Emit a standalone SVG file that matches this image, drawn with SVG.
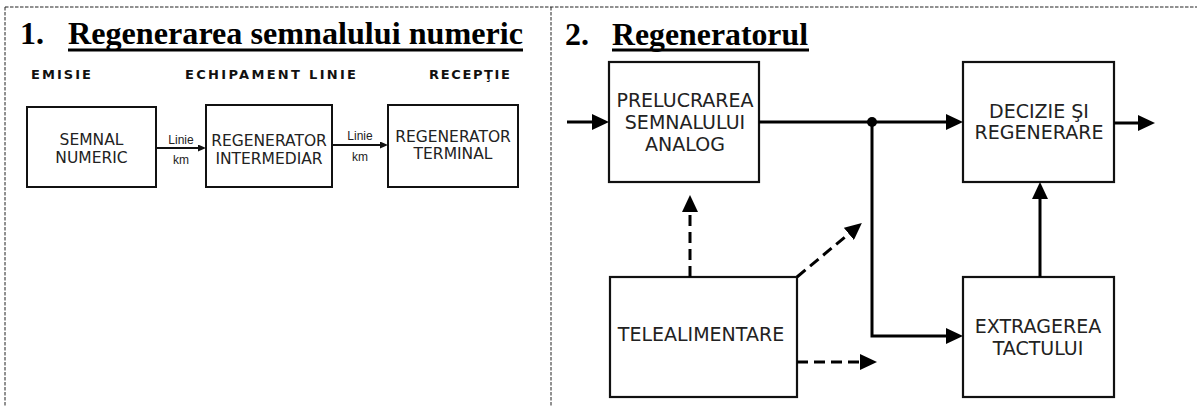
<svg xmlns="http://www.w3.org/2000/svg" width="1197" height="407" viewBox="0 0 1197 407">
  <style>
    .frame { stroke: #222; stroke-width: 1; stroke-dasharray: 3.5 1.5; fill: none; }
    .title { font-family: "Liberation Serif", "Times New Roman", serif; font-weight: bold; font-size: 32px; fill: #000; }
    .hdr { font-family: "DejaVu Sans", Verdana, sans-serif; font-weight: bold; font-size: 13px; fill: #111; }
    .box1 { fill: #fff; stroke: #111; stroke-width: 2; }
    .t1 { font-family: "DejaVu Sans", Verdana, sans-serif; font-size: 15.5px; fill: #222; text-anchor: middle; }
    .lbl { font-family: "Liberation Sans", Arial, sans-serif; font-size: 12px; fill: #222; text-anchor: middle; }
    .box2 { fill: #fff; stroke: #111; stroke-width: 2.2; }
    .t2 { font-family: "DejaVu Sans", Verdana, sans-serif; font-size: 19px; fill: #222; text-anchor: middle; }
    .a1 { stroke: #111; stroke-width: 2; fill: none; }
    .a2 { stroke: #000; stroke-width: 3; fill: none; }
    .d2 { stroke: #000; stroke-width: 3; fill: none; stroke-dasharray: 11 6; }
  </style>
  <defs>
    <marker id="sm" markerUnits="userSpaceOnUse" markerWidth="8" markerHeight="7" refX="4" refY="3.5" orient="auto">
      <path d="M0,0 L8,3.5 L0,7 z" fill="#111"/>
    </marker>
    <marker id="big" markerUnits="userSpaceOnUse" markerWidth="17" markerHeight="16" refX="9" refY="8" orient="auto">
      <path d="M0,0 L17,8 L0,16 z" fill="#000"/>
    </marker>
  </defs>

  <g id="frame">
    <line class="frame" x1="5" y1="7" x2="1197" y2="7"/>
    <line class="frame" x1="5" y1="7" x2="5" y2="407"/>
    <line class="frame" x1="551" y1="7" x2="551" y2="407"/>
  </g>

  <g id="title1">
    <text class="title" x="20" y="44">1.</text>
    <text class="title" x="68" y="44" textLength="455" lengthAdjust="spacingAndGlyphs">Regenerarea semnalului numeric</text>
    <rect x="68" y="48.5" width="455" height="3" fill="#000"/>
  </g>
  <g id="title2">
    <text class="title" x="565" y="45">2.</text>
    <text class="title" x="612" y="45" textLength="196" lengthAdjust="spacingAndGlyphs">Regeneratorul</text>
    <rect x="612" y="48.5" width="197" height="3" fill="#000"/>
  </g>

  <g id="headers">
    <text class="hdr" x="31" y="79" textLength="60" lengthAdjust="spacing">EMISIE</text>
    <text class="hdr" x="185" y="79" textLength="171" lengthAdjust="spacing">ECHIPAMENT LINIE</text>
    <text class="hdr" x="429" y="79" textLength="81" lengthAdjust="spacing">RECEPŢIE</text>
  </g>

  <g id="semnal-numeric">
    <rect class="box1" x="27" y="107" width="129" height="80"/>
    <text class="t1" x="91.5" y="145">SEMNAL</text>
    <text class="t1" x="91.5" y="163">NUMERIC</text>
  </g>
  <g id="regenerator-intermediar">
    <rect class="box1" x="206" y="105" width="126" height="82"/>
    <text class="t1" x="269" y="146">REGENERATOR</text>
    <text class="t1" x="269" y="164">INTERMEDIAR</text>
  </g>
  <g id="regenerator-terminal">
    <rect class="box1" x="388" y="105" width="130" height="82"/>
    <text class="t1" x="453" y="142">REGENERATOR</text>
    <text class="t1" x="453" y="159">TERMINAL</text>
  </g>

  <g id="prelucrarea">
    <rect class="box2" x="609" y="62" width="150" height="120"/>
    <text class="t2" x="685" y="107">PRELUCRAREA</text>
    <text class="t2" x="685" y="129">SEMNALULUI</text>
    <text class="t2" x="685" y="151">ANALOG</text>
  </g>
  <g id="decizie">
    <rect class="box2" x="963" y="62" width="151" height="120"/>
    <text class="t2" x="1039" y="118">DECIZIE ŞI</text>
    <text class="t2" x="1039" y="139">REGENERARE</text>
  </g>
  <g id="telealimentare">
    <rect class="box2" x="610" y="277" width="187" height="120"/>
    <text class="t2" x="701" y="341">TELEALIMENTARE</text>
  </g>
  <g id="extragerea">
    <rect class="box2" x="963" y="277" width="151" height="120"/>
    <text class="t2" x="1038" y="333">EXTRAGEREA</text>
    <text class="t2" x="1038" y="355">TACTULUI</text>
  </g>

  <g id="connectors">
    <line class="a1" x1="156" y1="148" x2="202" y2="148" marker-end="url(#sm)"/>
    <text class="lbl" x="181" y="144">Linie</text>
    <text class="lbl" x="181" y="164">km</text>
    <line class="a1" x1="332" y1="145" x2="384" y2="145" marker-end="url(#sm)"/>
    <text class="lbl" x="360" y="140">Linie</text>
    <text class="lbl" x="360" y="161">km</text>

    <line class="a2" x1="567" y1="122" x2="601" y2="122" marker-end="url(#big)"/>
    <line class="a2" x1="759" y1="122" x2="955" y2="122" marker-end="url(#big)"/>
    <circle cx="872" cy="122" r="5" fill="#000"/>
    <polyline class="a2" points="872,122 872,336 955,336" marker-end="url(#big)"/>
    <line class="a2" x1="1114" y1="123" x2="1147" y2="123" marker-end="url(#big)"/>
    <line class="a2" x1="1040" y1="277" x2="1040" y2="190" marker-end="url(#big)"/>

    <line class="d2" x1="690" y1="277" x2="690" y2="203" marker-end="url(#big)"/>
    <line class="d2" x1="797" y1="277" x2="855.7" y2="228.1" marker-end="url(#big)"/>
    <line class="d2" x1="797" y1="362" x2="869" y2="362" marker-end="url(#big)"/>
  </g>
</svg>
